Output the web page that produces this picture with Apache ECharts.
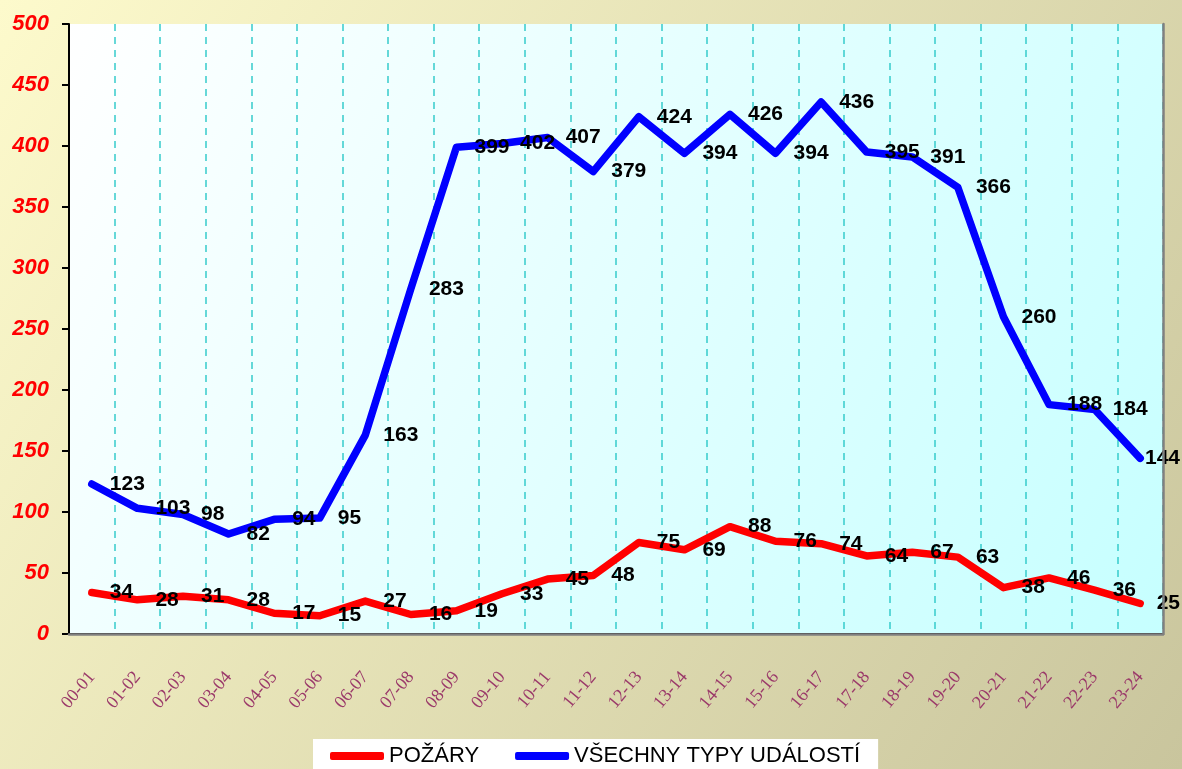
<!DOCTYPE html>
<html>
<head>
<meta charset="utf-8">
<script src="https://cdn.jsdelivr.net/npm/echarts@6/dist/echarts.min.js"></script>
<style>
  html, body { margin: 0; padding: 0; }
  #chart { width: 1182px; height: 769px; }
</style>
</head>
<body>
<div id="chart"></div>
<script>
// hodinové intervaly
const hours = ['00-01', '01-02', '02-03', '03-04', '04-05', '05-06', '06-07', '07-08',
  '08-09', '09-10', '10-11', '11-12', '12-13', '13-14', '14-15', '15-16',
  '16-17', '17-18', '18-19', '19-20', '20-21', '21-22', '22-23', '23-24']
const fires = [34, 28, 31, 28, 17, 15, 27, 16, 19, 33, 45, 48, 75, 69, 88, 76, 74, 64, 67, 63, 38, 46, 36, 25]
const allEvents = [123, 103, 98, 82, 94, 95, 163, 283, 399, 402, 407, 379, 424, 394, 426, 394, 436, 395, 391, 366, 260, 188, 184, 144]
const seriesNames = ['POŽÁRY', 'VŠECHNY TYPY UDÁLOSTÍ']

const sans = 'Liberation Sans, Arial, sans-serif'
const chartWidth = 1182
const chart = echarts.init(document.getElementById('chart'))

const makeSeries = (name, data, color) => ({
  name,
  type: 'line',
  data,
  symbol: 'circle',
  symbolSize: 2,
  showSymbol: true,
  itemStyle: { color },
  lineStyle: { color, width: 7.5, cap: 'round', join: 'round' },
  label: {
    show: true,
    position: 'right',
    distance: 17,
    color: '#000',
    fontFamily: sans,
    fontSize: 21,
    fontWeight: 'bold'
  },
  // popisky na kraji posunout dovnitř, ať se neořežou
  labelLayout: (params) => ({
    x: Math.min(params.labelRect.x, chartWidth - params.labelRect.width - 2),
    y: params.labelRect.y,
    align: 'left',
    verticalAlign: 'top'
  }),
  emphasis: { disabled: true },
  animation: false
})

// šedý rámeček nahoře a vpravo
const frameAxis = {
  show: true,
  z: 5,
  axisLine: { show: true, lineStyle: { color: '#808080', width: 2.5 } },
  axisTick: { show: false },
  axisLabel: { show: false },
  splitLine: { show: false }
}

chart.setOption({
  backgroundColor: new echarts.graphic.LinearGradient(0, 0, 1, 1, [
    { offset: 0, color: '#fdfacc' },
    { offset: 1, color: '#c9c59d' }
  ]),
  grid: {
    left: 69,
    right: 19,
    top: 24,
    bottom: 135,
    show: true,
    borderWidth: 0,
    backgroundColor: new echarts.graphic.LinearGradient(0, 0, 1, 1, [
      { offset: 0, color: '#ffffff' },
      { offset: 1, color: '#c6ffff' }
    ])
  },
  legend: {
    data: seriesNames,
    left: 313,
    top: 739,
    backgroundColor: '#ffffff',
    padding: [6, 18, 10, 17],
    icon: 'roundRect',
    itemWidth: 54,
    itemHeight: 8,
    itemGap: 36,
    textStyle: { color: '#000', fontFamily: sans, fontSize: 22 }
  },
  xAxis: [{
    type: 'category',
    data: hours,
    boundaryGap: true,
    axisLine: { lineStyle: { color: '#000', width: 2 } },
    axisTick: { show: false },
    splitLine: {
      show: true,
      interval: 0,
      lineStyle: { color: '#36cccc', width: 1.5, type: [7, 6] }
    },
    axisLabel: {
      interval: 0,
      rotate: 50,
      margin: 40,
      color: '#9b3a6a',
      fontFamily: 'Liberation Serif, Times New Roman, serif',
      fontSize: 18
    }
  }, Object.assign({ type: 'category', data: hours, position: 'top' }, frameAxis)],
  yAxis: [{
    type: 'value',
    min: 0,
    max: 500,
    interval: 50,
    z: 4,
    axisLine: { show: true, lineStyle: { color: '#000', width: 2 } },
    axisTick: { show: true, length: 7, lineStyle: { color: '#000', width: 2 } },
    splitLine: { show: false },
    axisLabel: {
      margin: 20,
      color: '#ff0000',
      fontFamily: sans,
      fontSize: 22,
      fontWeight: 'bold',
      fontStyle: 'italic'
    }
  }, Object.assign({ type: 'value', min: 0, max: 500, position: 'right' }, frameAxis)],
  series: [
    makeSeries(seriesNames[0], fires, '#ff0000'),
    makeSeries(seriesNames[1], allEvents, '#0000ff')
  ]
})
</script>
</body>
</html>
